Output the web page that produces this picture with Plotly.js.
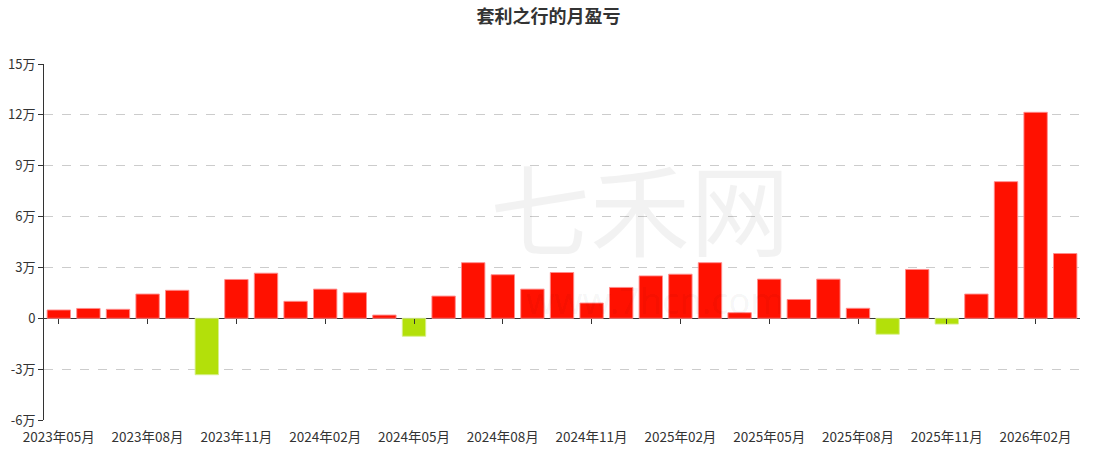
<!DOCTYPE html>
<html>
<head>
<meta charset="utf-8">
<script src="https://cdn.plot.ly/plotly-3.0.1.min.js"></script>
<style>html,body{margin:0;padding:0;background:#fff;}#chart{width:1097px;height:451px;}</style>
</head>
<body>
<div id="chart"></div>
<script>
const months = ["2023年05月","2023年06月","2023年07月","2023年08月","2023年09月","2023年10月","2023年11月","2023年12月",
"2024年01月","2024年02月","2024年03月","2024年04月","2024年05月","2024年06月","2024年07月","2024年08月","2024年09月","2024年10月","2024年11月","2024年12月",
"2025年01月","2025年02月","2025年03月","2025年04月","2025年05月","2025年06月","2025年07月","2025年08月","2025年09月","2025年10月","2025年11月","2025年12月",
"2026年01月","2026年02月","2026年03月"];
const profit = [4900,5800,5300,14300,16500,-33300,22900,26600,
10000,17200,15100,1900,-10600,13100,32800,25700,17200,27000,9000,18200,
25000,26000,32800,3300,23100,11100,23100,5900,-9400,28800,-3400,14300,
80600,121500,38200];
const xTickVals = ["2023年05月","2023年08月","2023年11月","2024年02月","2024年05月","2024年08月","2024年11月","2025年02月","2025年05月","2025年08月","2025年11月","2026年02月"];
const yTickVals = [-60000,-30000,0,30000,60000,90000,120000,150000];
const yTickText = ["-6万","-3万","0","3万","6万","9万","12万","15万"];

const fillColors = profit.map(v => v >= 0 ? "#ff1100" : "#b3e00a");
const lineColors = profit.map(v => v >= 0 ? "rgba(255,140,140,0.9)" : "rgba(215,240,140,0.9)");

const font = "'Noto Sans CJK SC', 'Noto Sans', sans-serif";

const data = [
  {type:"bar", x:months, y:profit, marker:{color:fillColors, line:{color:lineColors, width:1}}, hoverinfo:"x+y"},
  {type:"scatter", x:months, y:months.map(()=>null), xaxis:"x2", yaxis:"y", mode:"lines", showlegend:false, hoverinfo:"skip"}
];

const xr = [-0.5, months.length - 0.5];

const layout = {
  width:1097, height:451,
  margin:{l:44, r:17, t:64, b:31},
  paper_bgcolor:"#fff", plot_bgcolor:"#fff",
  showlegend:false,
  bargap:0.21,
  font:{family:font, size:13, color:"#333"},
  title:{text:"<b>套利之行的月盈亏</b>", font:{family:font, size:18, color:"#333"}, x:0.5, xref:"container", y:1-17/451, yref:"container", yanchor:"middle"},
  xaxis:{type:"category", categoryorder:"array", categoryarray:months, range:xr, autorange:false, tickmode:"array", tickvals:xTickVals,
    showline:false, ticks:"", showgrid:false, zeroline:false, tickfont:{size:13.5, color:"#333"}, ticklabelstandoff:7},
  xaxis2:{type:"category", categoryorder:"array", categoryarray:months, overlaying:"x", anchor:"free", position:6/21, range:xr, autorange:false,
    tickmode:"array", tickvals:xTickVals,
    showticklabels:false, ticks:"outside", ticklen:5, tickcolor:"#333", tickwidth:1, showline:false, showgrid:false, zeroline:false},
  yaxis:{range:[-60000,150000], autorange:false, tickmode:"array", tickvals:yTickVals, ticktext:yTickText,
    showline:true, linecolor:"#333", linewidth:1, ticks:"outside", ticklen:5, tickcolor:"#333",
    showgrid:true, gridcolor:"#cccccc", griddash:"dash", gridwidth:1,
    zeroline:true, zerolinecolor:"#333", zerolinewidth:1, tickfont:{size:13, color:"#333"}},
  annotations:[
    {text:"七禾网", xref:"paper", yref:"paper", x:(640-44)/1036, y:(420-205)/356, showarrow:false,
     font:{family:font, size:100, color:"rgba(0,0,0,0.05)"}},
    {text:"www.7hcn.com", xref:"paper", yref:"paper", x:(655-44)/1036, y:(420-300)/356, showarrow:false,
     font:{family:"'Noto Sans', sans-serif", size:36, color:"rgba(0,0,0,0.05)"}}
  ]
};

Plotly.newPlot("chart", data, layout, {displayModeBar:false, staticPlot:true});
</script>
</body>
</html>
